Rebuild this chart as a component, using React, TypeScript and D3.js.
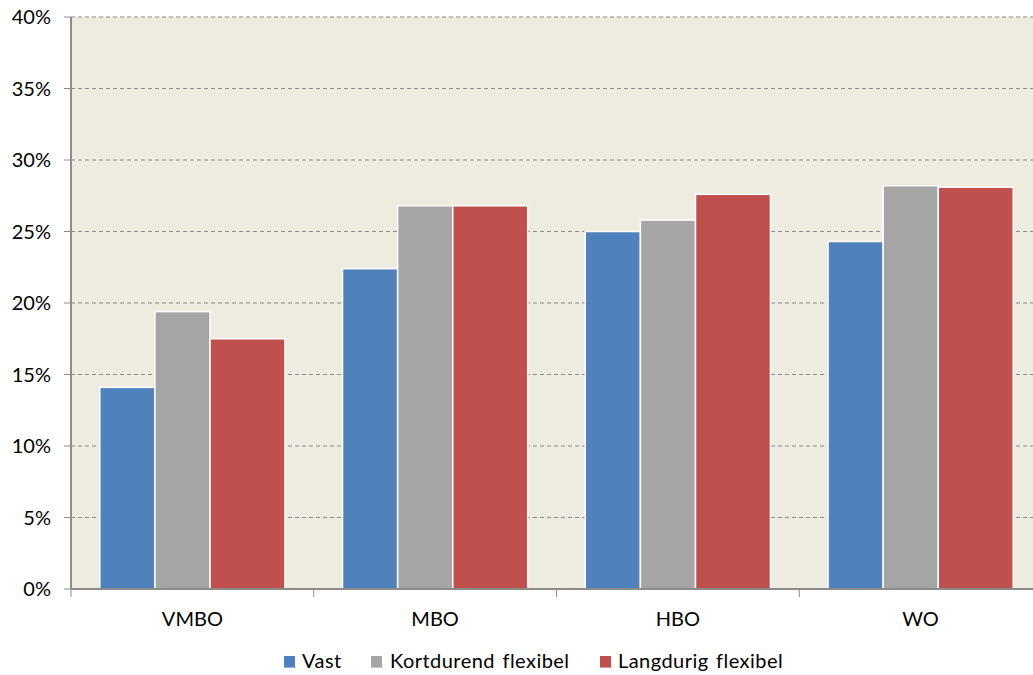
import React from "react";
import * as d3 from "d3";

const categories = ["VMBO", "MBO", "HBO", "WO"];
const seriesNames = ["Vast", "Kortdurend flexibel", "Langdurig flexibel"];
const vast = [14.1, 22.4, 25.0, 24.3];
const kortdurend = [19.4, 26.8, 25.8, 28.2];
const langdurig = [17.5, 26.8, 27.6, 28.1];
const yTicks = [0, 5, 10, 15, 20, 25, 30, 35, 40];

const colors = ["#4F81BD", "#A5A5A5", "#C0504D"];
const widthWeights = [1, 1, 1.36];

export default function App() {
  const W = 1033, H = 675;
  const left = 71, right = 1042, top = 17, bottom = 589;
  const font = "Lato, sans-serif";
  const fs = 20;
  const series = [vast, kortdurend, langdurig];

  const x0 = d3.scaleBand<string>().domain(categories).range([left, right]).paddingInner(0).paddingOuter(0);
  const y = d3.scaleLinear().domain([0, 40]).range([bottom, top]);
  const groupFrac = 185 / 242.5;
  const totalW = d3.sum(widthWeights);
  const offsets = widthWeights.map((_, i) => d3.sum(widthWeights.slice(0, i)) / totalW);

  const legendItems = [
    { x: 284, tx: 302 },
    { x: 371, tx: 390 },
    { x: 600, tx: 618 },
  ];

  return (
    <svg width={W} height={H} style={{ display: "block", position: "absolute", left: 0, top: 0 }}>
      <rect x={0} y={0} width={W} height={H} fill="#fff" />
      <rect x={left} y={top} width={right - left} height={bottom - top} fill="#EEEBE0" />
      {yTicks.filter((t) => t > 0).map((t) => (
        <line key={t} x1={left} x2={right} y1={y(t)} y2={y(t)} stroke="#8a8a8a" strokeWidth={1} strokeDasharray="4,3" />
      ))}
      {categories.map((c, ci) => {
        const bw = x0.bandwidth();
        const gw = bw * groupFrac;
        const gx = (x0(c) as number) + (bw - gw) / 2;
        return series.map((s, si) => {
          const bx = gx + offsets[si] * gw;
          const w = (widthWeights[si] / totalW) * gw;
          return (
            <rect key={c + si} x={bx} y={y(s[ci])} width={w} height={y(0) - y(s[ci])} fill={colors[si]} stroke="#fff" strokeWidth={1.5} />
          );
        });
      })}
      <line x1={left} x2={left} y1={top} y2={bottom} stroke="#8c8c8c" strokeWidth={2} />
      <line x1={left} x2={right} y1={bottom} y2={bottom} stroke="#8c8c8c" strokeWidth={2} />
      {yTicks.map((t) => (
        <g key={t}>
          <line x1={64} x2={left} y1={y(t)} y2={y(t)} stroke="#8c8c8c" strokeWidth={1} />
          <text x={51} y={y(t)} dy="0.35em" textAnchor="end" fontFamily={font} fontSize={fs} fill="#000">{t}%</text>
        </g>
      ))}
      {categories.map((c) => (
        <line key={c} x1={x0(c) as number} x2={x0(c) as number} y1={bottom} y2={597} stroke="#8c8c8c" strokeWidth={1} />
      ))}
      <line x1={right} x2={right} y1={bottom} y2={597} stroke="#8c8c8c" strokeWidth={1} />
      {categories.map((c) => (
        <text key={c} x={(x0(c) as number) + x0.bandwidth() / 2} y={619} dy="0.35em" textAnchor="middle" fontFamily={font} fontSize={fs} fill="#000">{c}</text>
      ))}
      {seriesNames.map((n, i) => (
        <g key={n}>
          <rect x={legendItems[i].x} y={656} width={11} height={11} fill={colors[i]} />
          <line x1={legendItems[i].x} x2={legendItems[i].x + 12} y1={667.5} y2={667.5} stroke={colors[i]} strokeOpacity={0.6} strokeWidth={1} />
          <text x={legendItems[i].tx} y={661} dy="0.35em" fontFamily={font} fontSize={fs} letterSpacing={0.45} wordSpacing={2} fill="#000">{n}</text>
        </g>
      ))}
    </svg>
  );
}
